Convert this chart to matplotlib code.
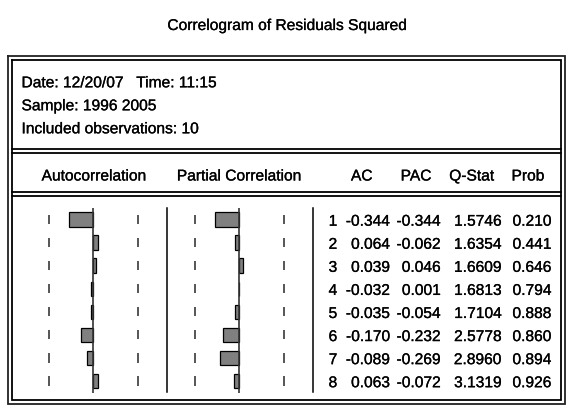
import numpy as np
import matplotlib
matplotlib.use("Agg")
import matplotlib.pyplot as plt
import matplotlib.patheffects as pe

plt.rcParams['font.family'] = ['Liberation Sans', 'DejaVu Sans']

# ---- data ----
title = "Correlogram of Residuals Squared"
info_lines = ["Date: 12/20/07   Time: 11:15",
              "Sample: 1996 2005",
              "Included observations: 10"]
headers = ["Autocorrelation", "Partial Correlation", "AC", "PAC", "Q-Stat", "Prob"]
n_obs = 10
lags = [1, 2, 3, 4, 5, 6, 7, 8]
ac = [-0.344, 0.064, 0.039, -0.032, -0.035, -0.170, -0.089, 0.063]
pac = [-0.344, -0.062, 0.046, 0.001, -0.054, -0.232, -0.269, -0.072]
qstat = [1.5746, 1.6354, 1.6609, 1.6813, 1.7104, 2.5778, 2.8960, 3.1319]
prob = [0.210, 0.441, 0.646, 0.794, 0.888, 0.860, 0.894, 0.926]

W, H = 570, 417
fig = plt.figure(figsize=(W / 100, H / 100), dpi=100)

# overlay axes in pixel coordinates
ov = fig.add_axes([0, 0, 1, 1])
ov.set_xlim(0, W)
ov.set_ylim(H, 0)
ov.axis('off')

FS = 11.2
lw = 1.3
heavy = [pe.withStroke(linewidth=0.2, foreground='black')]

def txt(x, y, s, ha):
    ov.text(x, y, s, ha=ha, va='baseline', fontsize=FS, color='black',
            path_effects=heavy)

# title
txt(286.5, 30, title, 'center')

# frames (double lines)
def rect(x0, y0, x1, y1, color='black'):
    ov.plot([x0, x1, x1, x0, x0], [y0, y0, y1, y1, y0], color=color, lw=lw,
            solid_joinstyle='miter')

rect(8.3, 56, 565, 403.5, color='#222222')
rect(12.3, 60, 561, 399.5)
for y in (148.5, 152.5, 192, 196):
    ov.plot([12.3, 561], [y, y], color='black', lw=lw)

# info text
for i, s in enumerate(info_lines):
    txt(21.5, 87.3 + 23 * i, s, 'left')

# header
hx = [93.9, 239.0, 361.7, 416.0, 471.7, 527.9]
for x, s in zip(hx, headers):
    txt(x, 180.5, s, 'center')

# row geometry
row0 = 219.5
row_step = 23.07
top_px = row0 - row_step / 2
bot_px = row0 + row_step * (len(lags) - 0.5)

# dividers
for x in (166.7, 312.5):
    ov.plot([x, x], [208, 392], color='black', lw=1.1)

# table numbers
col_right = [337.2, 389.8, 440.5, 501.2, 551.2]
for i, lag in enumerate(lags):
    yb = row0 + 6.2 + row_step * i
    vals = [f"{lag}", f"{ac[i]:.3f}", f"{pac[i]:.3f}", f"{qstat[i]:.4f}", f"{prob[i]:.3f}"]
    for x, s in zip(col_right, vals):
        txt(x, yb, s, 'right')

# bar panels
bound = 2 / np.sqrt(n_obs)
scale = 70.7  # px per unit correlation
def panel(zero_px, values):
    left = zero_px - scale
    ax = fig.add_axes([left / W, (H - bot_px) / H, 2 * scale / W, (bot_px - top_px) / H])
    ax.set_xlim(-1, 1)
    ax.set_ylim(len(lags) + 0.5, 0.5)
    ax.axis('off')
    ax.patch.set_alpha(0)
    ax.barh(lags, values, height=0.62, color='#808080', edgecolor='black',
            linewidth=0.9, zorder=2)
    ax.vlines(0, 0.5 - (top_px - 208) / row_step, len(lags) + 0.5,
              color='#333333', lw=1.2, zorder=3)
    for lag in lags:
        for b in (-bound, bound):
            ax.plot([b, b], [lag - 0.2, lag + 0.2], color='#555555', lw=1.4,
                    solid_capstyle='butt')
    return ax

panel(93.3, ac)
panel(239.3, pac)

fig.savefig("out.png", dpi=100)
